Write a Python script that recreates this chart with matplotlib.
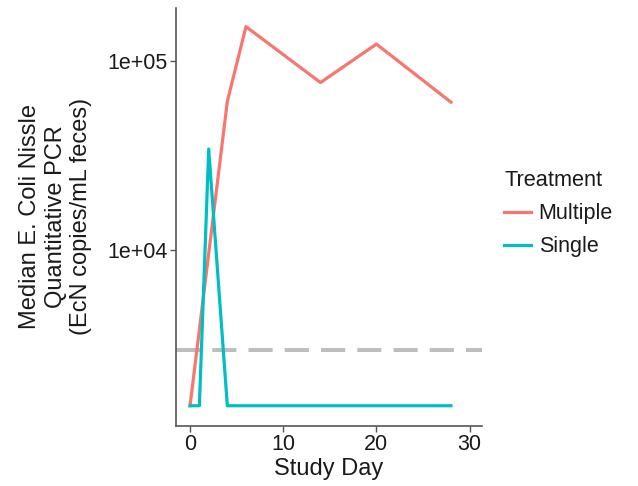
import numpy as np
import matplotlib.pyplot as plt
from matplotlib.lines import Line2D

plt.rcParams['font.family'] = ['Liberation Sans', 'DejaVu Sans']

# data
multi_day = [0, 4, 6, 14, 20, 28]
multi_val = [1490, 61400, 153000, 77300, 123700, 60800]

single_day = [0, 1, 2, 4, 28]
single_val = [1490, 1490, 34300, 1490, 1490]

lod = 2950

red = '#F8766D'
teal = '#00BFC4'

fig = plt.figure(figsize=(6.38, 4.86), dpi=100)
ax = fig.add_axes([0.276, 0.124, 0.479, 0.86])

ax.axhline(lod, color='#BEBEBE', lw=2.9, dashes=(6, 3), zorder=1)
ax.plot(multi_day, multi_val, color=red, lw=2.3, zorder=2)
ax.plot(single_day, single_val, color=teal, lw=2.3, zorder=3)

ax.set_yscale('log')
ax.set_ylim(1167, 192700)
ax.set_xlim(-1.5, 31.3)
ax.set_yticks([1e4, 1e5])
ax.set_yticklabels(['1e+04', '1e+05'])
ax.yaxis.set_minor_locator(plt.NullLocator())
ax.set_xticks([0, 10, 20, 30])

for s in ['top', 'right']:
    ax.spines[s].set_visible(False)
for s in ['left', 'bottom']:
    ax.spines[s].set_color('#555555')
    ax.spines[s].set_linewidth(1.2)
ax.tick_params(colors='#555555', labelcolor='#1a1a1a', labelsize=15.5, length=4, width=1.0, pad=2)

ax.set_xlabel('Study Day', fontsize=17, color='#1a1a1a', labelpad=2)
ax.set_ylabel('Median E. Coli Nissle\nQuantitative PCR\n(EcN copies/mL feces)',
              fontsize=17, color='#1a1a1a', labelpad=11, linespacing=1.2)

handles = [Line2D([], [], color=red, lw=2.3), Line2D([], [], color=teal, lw=2.3)]
leg = fig.legend(handles, ['Multiple', 'Single'], title='Treatment',
                 loc='center left', bbox_to_anchor=(0.76, 0.56), frameon=False,
                 fontsize=15.5, title_fontsize=15.7, handlelength=1.25, handletextpad=0.35,
                 labelspacing=0.55)
leg._legend_box.align = 'left'
leg.get_title().set_color('#1a1a1a')
for t in leg.get_texts():
    t.set_color('#1a1a1a')

fig.savefig('out.png', dpi=100)
